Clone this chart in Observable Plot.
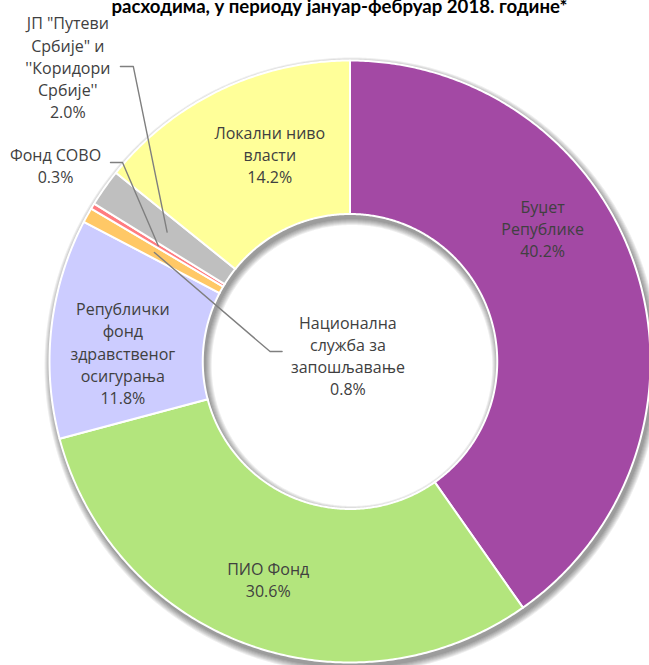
<!DOCTYPE html>
<html><head><meta charset="utf-8">
<script src="https://cdn.jsdelivr.net/npm/d3@7"></script>
<script src="https://cdn.jsdelivr.net/npm/@observablehq/plot@0.6"></script>
<style>
body{margin:0;background:#fff;}
#wrap{position:relative;width:649px;height:665px;overflow:hidden;}
#title{position:absolute;left:0;top:-3px;width:649px;text-align:center;font:bold 18.6px Lato, sans-serif;line-height:19px;color:#000;white-space:nowrap;padding-left:30px;box-sizing:border-box;}
#chart{position:absolute;left:0;top:0;}
</style></head><body>
<div id="wrap"><div id="chart"></div><div id="title">расходима, у периоду јануар-фебруар 2018. године*</div></div>
<script>
// ---- data ----
const categories = ["Буџет Републике", "ПИО Фонд", "Републички фонд здравственог осигурања", "Национална служба за запошљавање", "Фонд СОВО", "ЈП \"Путеви Србије\" и ''Коридори Србије''", "Локални ниво власти"];
const labelNames = ["Буџет\nРепублике", "ПИО Фонд", "Републички\nфонд\nздравственог\nосигурања", "Национална\nслужба за\nзапошљавање", "Фонд СОВО", "ЈП \"Путеви\nСрбије\" и\n''Коридори\nСрбије''", "Локални ниво\nвласти"];
const shares = [40.2, 30.6, 11.8, 0.8, 0.3, 2.0, 14.2];
const colors = ["#A349A4", "#B3E57D", "#CCCCFF", "#FFC866", "#FF7C80", "#BFBFBF", "#FFFF99"];

// ---- layout (chart units: outer radius = 1) ----
const innerR = 0.49, outerR = 1, midR = 0.745;
const px = 1 / 301;
const labelAt = [[0.641, 0.445], [-0.272, -0.721], [-0.756, 0.030], [-0.007, 0.023], [-0.980, 0.654], [-0.939, 0.980], [-0.267, 0.691]];
const leaders = {3: [[-0.266, 0.033], [-0.226, 0.033]], 4: [[-0.757, 0.661], [-0.797, 0.661]], 5: [[-0.721, 0.980], [-0.764, 0.980]]};

const total = d3.sum(shares);
let cum = 0;
const slices = shares.map((v, i) => {
  const a0 = cum / total * 2 * Math.PI; cum += v;
  const a1 = cum / total * 2 * Math.PI;
  return {i, a0, a1, mid: (a0 + a1) / 2};
});
function sector(a0, a1, r0, r1, cx = 0, cy = 0) {
  const out = [];
  const n = Math.max(2, Math.ceil((a1 - a0) / (Math.PI / 360)));
  for (let k = 0; k <= n; k++) { const a = a0 + (a1 - a0) * k / n; out.push({x: cx + r1 * Math.sin(a), y: cy + r1 * Math.cos(a)}); }
  for (let k = n; k >= 0; k--) { const a = a0 + (a1 - a0) * k / n; out.push({x: cx + r0 * Math.sin(a), y: cy + r0 * Math.cos(a)}); }
  out.push(out[0]);
  return out;
}
// shadow: stacked translucent rings, offset right/down, growing spread
const shadowLayers = d3.range(1, 8).map(s => sector(0, 2 * Math.PI, innerR - s * px, outerR + s * px, 2 * px, -4 * px));

const leaderPts = [];
for (const [k, pts] of Object.entries(leaders)) {
  const s = slices[+k];
  leaderPts.push({id: +k, x: midR * Math.sin(s.mid), y: midR * Math.cos(s.mid)});
  for (const [x, y] of pts) leaderPts.push({id: +k, x, y});
}
const labels = slices.map(s => ({x: labelAt[s.i][0], y: labelAt[s.i][1], text: labelNames[s.i] + "\n" + shares[s.i].toFixed(1) + "%"}));

const chart = Plot.plot({
  width: 649, height: 665,
  marginLeft: 49, marginRight: 0, marginTop: 60, marginBottom: 3,
  x: {domain: [-1, 300 / 301], axis: null},
  y: {domain: [-1, 1], axis: null},
  style: {fontFamily: "'Open Sans', sans-serif", background: "white"},
  marks: [
    ...shadowLayers.map(pts => Plot.line(pts, {x: "x", y: "y", fill: "#000", fillOpacity: 0.065, stroke: "none"})),
    ...slices.map(s => Plot.line(sector(s.a0, s.a1, innerR, outerR), {x: "x", y: "y", fill: colors[s.i], stroke: "white", strokeWidth: 2})),
    Plot.line(leaderPts, {x: "x", y: "y", z: "id", stroke: "#7F7F7F", strokeWidth: 1.4}),
    Plot.text(labels, {x: "x", y: "y", text: "text", fill: "#404040", fontSize: 16, lineHeight: 1.38})
  ]
});
document.getElementById("chart").appendChild(chart);
</script>
</body></html>
